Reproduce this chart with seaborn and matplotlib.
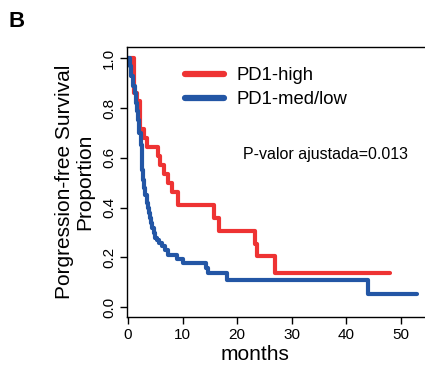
import numpy as np
import pandas as pd
import matplotlib
matplotlib.use("Agg")
import matplotlib.pyplot as plt
import seaborn as sns
from matplotlib.lines import Line2D

# Data
high_time = [0, 1.1, 1.7, 2.2, 2.9, 3.4, 5.5, 5.9, 6.6, 7.3, 8.1, 9.2, 15.8, 16.7, 23.3, 23.6, 26.9, 48]
high_surv = [1.0, 0.86, 0.83, 0.715, 0.68, 0.643, 0.607, 0.571, 0.536, 0.5, 0.462, 0.409, 0.357, 0.307, 0.255, 0.205, 0.136, 0.136]

low_time = [0, 0.3, 0.6, 0.9, 1.2, 1.5, 1.7, 1.9, 2.1, 2.3, 2.5, 2.6, 2.8, 3.0, 3.2, 3.4, 3.6, 3.8, 4.0,
            4.2, 4.4, 4.7, 5.0, 5.3, 5.7, 6.2, 6.8, 7.4, 9.0, 10.1, 14.2, 14.7, 18.1, 44.0, 52.9]
low_surv = [1.0, 0.97, 0.93, 0.89, 0.86, 0.82, 0.79, 0.75, 0.70, 0.65, 0.60, 0.55, 0.51, 0.48, 0.45, 0.42,
            0.40, 0.38, 0.36, 0.34, 0.32, 0.30, 0.28, 0.27, 0.26, 0.245, 0.23, 0.21, 0.193, 0.176, 0.157,
            0.137, 0.11, 0.054, 0.054]

groups = ["PD1-high", "PD1-med/low"]
colors = ["#EE3333", "#2356A5"]
x_ticks = [0, 10, 20, 30, 40, 50]
y_ticks = [0.0, 0.2, 0.4, 0.6, 0.8, 1.0]

df = pd.concat([
    pd.DataFrame({"months": high_time, "surv": high_surv, "group": groups[0]}),
    pd.DataFrame({"months": low_time, "surv": low_surv, "group": groups[1]}),
])

sns.set_style("ticks")
plt.rcParams["font.family"] = ["Liberation Sans", "DejaVu Sans"]
for k in ["text.color", "axes.labelcolor", "xtick.color", "ytick.color", "axes.edgecolor"]:
    plt.rcParams[k] = "black"

fig = plt.figure(figsize=(4.25, 3.67), dpi=100)
ax = fig.add_axes([127 / 425, 1 - 317 / 367, (425 - 127) / 425, (317 - 47) / 367])

sns.lineplot(data=df, x="months", y="surv", hue="group", palette=dict(zip(groups, colors)),
             drawstyle="steps-post", linewidth=3, estimator=None, ax=ax, legend=False)

ax.set_xlim(-0.18, 54.4)
ax.set_ylim(-0.039, 1.045)
ax.set_xticks(x_ticks)
ax.set_xticklabels([str(t) for t in x_ticks], fontsize=11)
ax.set_yticks(y_ticks)
ax.set_yticklabels([f"{t:.1f}" for t in y_ticks], fontsize=11, rotation=90, va="center")
ax.tick_params(direction="out", length=5, width=1, color="black", pad=3)
for s in ["left", "bottom", "top"]:
    ax.spines[s].set_linewidth(1)
ax.spines["right"].set_visible(False)

ax.set_xlabel("months", fontsize=15)
ax.xaxis.set_label_coords(0.43, -0.105)
ax.set_ylabel("Porgression-free Survival\nProportion", fontsize=15, linespacing=1.05)
ax.yaxis.set_label_coords(-0.11, 0.5)

handles = [Line2D([], [], color=c, lw=4.5, solid_capstyle="round") for c in colors]
ax.legend(handles, groups, loc="upper left", bbox_to_anchor=(0.195, 0.925), frameon=False,
          fontsize=13.3, handlelength=2.1, handletextpad=0.7, labelspacing=0.38, borderpad=0,
          borderaxespad=0)

ax.text(0.388, 0.6, "P-valor ajustada=0.013", transform=ax.transAxes, fontsize=11.5, va="center")
fig.text(8 / 425, 1 - 27 / 367, "B", fontsize=16, fontweight="bold")

fig.savefig("out.png", dpi=100)
